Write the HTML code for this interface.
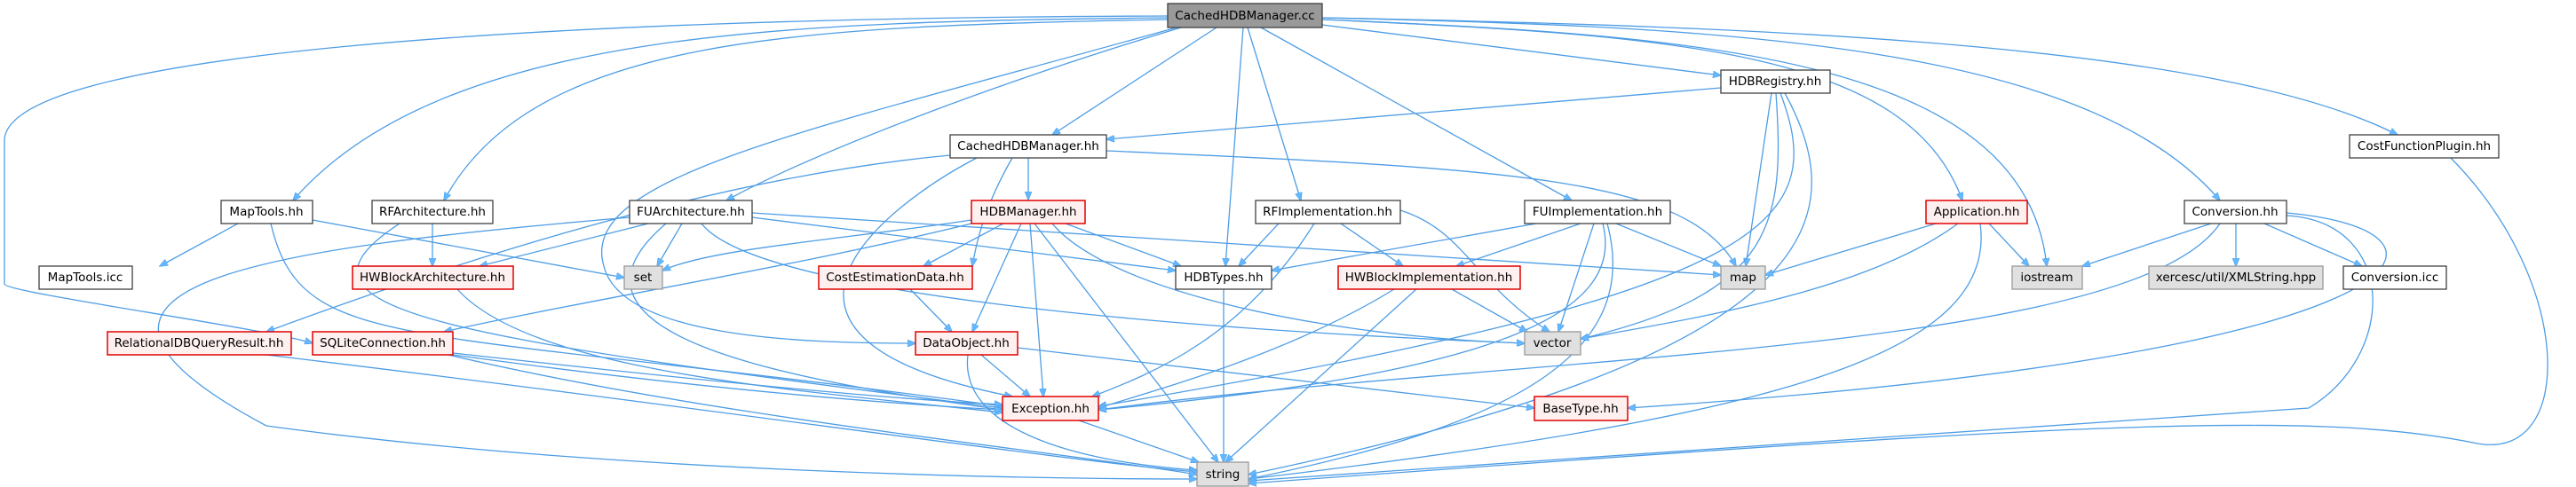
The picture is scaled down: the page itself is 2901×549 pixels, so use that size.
<!DOCTYPE html>
<html><head><meta charset="utf-8"><style>
html,body{margin:0;padding:0;background:#fff;}
svg{display:block}
text{font-family:"DejaVu Sans","Liberation Sans",sans-serif;font-size:13.5px;fill:#000;text-anchor:middle;dominant-baseline:central}
.e{fill:none;stroke:#4e9de5;stroke-width:1.3}
.n{fill:#fff;stroke:#404040;stroke-width:1.3}
.g{fill:#e0e0e0;stroke:#999;stroke-width:1.3}
.r{fill:#fff0f0;stroke:#e00000;stroke-width:1.5}
</style></head><body>
<svg width="2901" height="549" viewBox="0 0 2901 549" xmlns="http://www.w3.org/2000/svg">
<defs><marker id="a" markerWidth="10" markerHeight="8" refX="9" refY="4" orient="auto" markerUnits="userSpaceOnUse"><path d="M0,0 L10,4 L0,8 z" fill="#63b8ff" stroke="#4e9de5" stroke-width="0.6"/></marker></defs>
<g marker-end="url(#a)">
<!-- from CachedHDBManager.cc -->
<path class="e" d="M1370,31 L1185,152"/>
<path class="e" d="M1315,20 C900,25 500,30 330,226"/>
<path class="e" d="M1315,22 C900,30 600,40 500,226"/>
<path class="e" d="M1330,31 C1100,100 900,180 818,226"/>
<path class="e" d="M1400,31 L1380,300"/>
<path class="e" d="M1405,31 L1465,226"/>
<path class="e" d="M1420,31 L1770,226"/>
<path class="e" d="M1489,28 L1938,85"/>
<path class="e" d="M1489,22 C1900,40 2150,60 2210,226"/>
<path class="e" d="M1489,22 C1900,40 2280,60 2305,300"/>
<path class="e" d="M1489,20 C1950,30 2350,50 2500,226"/>
<path class="e" d="M1489,20 C2000,30 2500,50 2700,152"/>
<path class="e" d="M1315,18 C600,20 0,60 5,160 L5,320 C5,330 300,370 352,387"/>
<path class="e" d="M1325,31 C900,150 650,200 680,300 C700,380 900,387 1031,387"/>
<!-- HDBRegistry -->
<path class="e" d="M1938,99 L1246,157"/>
<path class="e" d="M1995,105 L1966,300"/>
<path class="e" d="M2000,105 C2010,250 2000,330 1780,382"/>
<path class="e" d="M2005,105 C2060,250 2000,330 1237,458"/>
<path class="e" d="M2010,105 C2090,250 2050,400 1406,535"/>
<!-- CachedHDBManager.hh -->
<path class="e" d="M1158,178 L1158,225"/>
<path class="e" d="M1140,178 C1110,230 1100,270 1095,300"/>
<path class="e" d="M1100,178 C1000,230 800,380 1140,447"/>
<path class="e" d="M1070,175 C800,200 500,300 300,374"/>
<path class="e" d="M1246,170 C1700,190 1900,200 1955,300"/>
<!-- MapTools.hh -->
<path class="e" d="M268,252 L180,300"/>
<path class="e" d="M352,248 L703,313"/>
<path class="e" d="M305,252 C340,400 450,365 1129,458"/>
<!-- RFArchitecture -->
<path class="e" d="M487,252 L487,300"/>
<path class="e" d="M450,252 C300,350 500,380 1129,460"/>
<!-- FUArchitecture -->
<path class="e" d="M730,252 L540,300"/>
<path class="e" d="M768,252 L740,300"/>
<path class="e" d="M847,245 L1324,305"/>
<path class="e" d="M847,240 L1938,310"/>
<path class="e" d="M790,252 C850,330 1300,370 1717,387"/>
<path class="e" d="M750,252 C600,380 900,430 1129,462"/>
<path class="e" d="M709,245 C300,280 0,320 300,480 C700,535 1200,540 1348,540"/>
<!-- HDBManager -->
<path class="e" d="M1094,248 C950,270 800,280 746,305"/>
<path class="e" d="M1130,252 L1040,300"/>
<path class="e" d="M1200,252 L1330,300"/>
<path class="e" d="M1150,252 L1095,374"/>
<path class="e" d="M1160,252 L1175,447"/>
<path class="e" d="M1165,252 L1372,521"/>
<path class="e" d="M1185,252 C1250,330 1500,380 1717,387"/>
<path class="e" d="M1094,252 C900,300 650,340 500,374"/>
<!-- RFImplementation -->
<path class="e" d="M1440,252 L1395,300"/>
<path class="e" d="M1510,252 L1580,300"/>
<path class="e" d="M1577,237 C1650,260 1660,320 1745,374"/>
<path class="e" d="M1480,252 C1400,380 1300,420 1230,447"/>
<!-- FUImplementation -->
<path class="e" d="M1730,252 L1432,305"/>
<path class="e" d="M1780,252 L1640,300"/>
<path class="e" d="M1820,252 L1938,300"/>
<path class="e" d="M1795,252 L1755,374"/>
<path class="e" d="M1805,252 C1830,350 1700,420 1237,462"/>
<path class="e" d="M1810,252 C1850,400 1700,480 1406,540"/>
<!-- HWBlockImplementation -->
<path class="e" d="M1635,326 L1720,374"/>
<path class="e" d="M1570,326 C1450,400 1300,440 1237,460"/>
<path class="e" d="M1595,326 L1380,521"/>
<!-- HWBlockArchitecture -->
<path class="e" d="M515,326 C600,420 900,440 1129,465"/>
<!-- CostEstimationData -->
<path class="e" d="M1025,326 L1072,374"/>
<!-- DataObject -->
<path class="e" d="M1105,400 L1160,447"/>
<path class="e" d="M1090,400 C1080,480 1200,520 1348,530"/>
<path class="e" d="M1146,392 L1728,460"/>
<!-- HDBTypes -->
<path class="e" d="M1378,326 L1378,521"/>
<!-- RelationalDBQueryResult -->
<path class="e" d="M300,400 C800,460 1200,520 1348,532"/>
<!-- SQLiteConnection -->
<path class="e" d="M510,398 C800,430 1000,450 1129,456"/>
<path class="e" d="M510,400 C800,440 1000,455 1129,462"/>
<path class="e" d="M505,400 C800,470 1200,510 1348,535"/>
<!-- Exception -->
<path class="e" d="M1215,474 L1350,521"/>
<!-- Application -->
<path class="e" d="M2180,252 L1988,310"/>
<path class="e" d="M2240,252 L2285,300"/>
<path class="e" d="M2205,252 C2100,330 1900,360 1780,382"/>
<path class="e" d="M2230,252 C2250,400 2000,470 1406,540"/>
<!-- Conversion -->
<path class="e" d="M2490,252 L2345,300"/>
<path class="e" d="M2518,252 L2518,300"/>
<path class="e" d="M2550,252 L2660,300"/>
<path class="e" d="M2500,252 C2400,400 1700,400 1237,462"/>
<path class="e" d="M2575,240 C2800,260 2750,400 1833,460"/>
<path class="e" d="M2575,243 C2700,250 2700,400 2600,460 C2400,470 2200,490 1406,542"/>
<!-- CostFunctionPlugin -->
<path class="e" d="M2760,178 C2900,320 2900,520 2790,500 C2600,460 2300,480 1406,545"/>
</g>
<!-- nodes -->
<rect class="n" x="1315" y="4" width="174" height="27" style="fill:#999"/><text x="1402" y="18">CachedHDBManager.cc</text>
<rect class="n" x="1938" y="79" width="123" height="26"/><text x="1999" y="92">HDBRegistry.hh</text>
<rect class="n" x="1070" y="152" width="176" height="26"/><text x="1158" y="165">CachedHDBManager.hh</text>
<rect class="n" x="2646" y="152" width="168" height="26"/><text x="2730" y="165">CostFunctionPlugin.hh</text>
<rect class="n" x="249" y="226" width="103" height="26"/><text x="300" y="239">MapTools.hh</text>
<rect class="n" x="419" y="226" width="136" height="26"/><text x="487" y="239">RFArchitecture.hh</text>
<rect class="n" x="709" y="226" width="138" height="26"/><text x="778" y="239">FUArchitecture.hh</text>
<rect class="r" x="1094" y="226" width="128" height="26"/><text x="1158" y="239">HDBManager.hh</text>
<rect class="n" x="1414" y="226" width="163" height="26"/><text x="1495" y="239">RFImplementation.hh</text>
<rect class="n" x="1717" y="226" width="164" height="26"/><text x="1799" y="239">FUImplementation.hh</text>
<rect class="r" x="2169" y="226" width="114" height="26"/><text x="2226" y="239">Application.hh</text>
<rect class="n" x="2460" y="226" width="115" height="26"/><text x="2517" y="239">Conversion.hh</text>
<rect class="n" x="44" y="300" width="105" height="26"/><text x="96" y="313">MapTools.icc</text>
<rect class="r" x="397" y="300" width="181" height="26"/><text x="487" y="313">HWBlockArchitecture.hh</text>
<rect class="g" x="703" y="300" width="43" height="26"/><text x="724" y="313">set</text>
<rect class="r" x="922" y="300" width="173" height="26"/><text x="1008" y="313">CostEstimationData.hh</text>
<rect class="n" x="1324" y="300" width="108" height="26"/><text x="1378" y="313">HDBTypes.hh</text>
<rect class="r" x="1507" y="300" width="205" height="26"/><text x="1609" y="313">HWBlockImplementation.hh</text>
<rect class="g" x="1938" y="300" width="50" height="26"/><text x="1963" y="313">map</text>
<rect class="g" x="2266" y="300" width="79" height="26"/><text x="2305" y="313">iostream</text>
<rect class="g" x="2420" y="300" width="196" height="26"/><text x="2518" y="313">xercesc/util/XMLString.hpp</text>
<rect class="n" x="2639" y="300" width="116" height="26"/><text x="2697" y="313">Conversion.icc</text>
<rect class="r" x="121" y="374" width="207" height="26"/><text x="224" y="387">RelationalDBQueryResult.hh</text>
<rect class="r" x="352" y="374" width="158" height="26"/><text x="431" y="387">SQLiteConnection.hh</text>
<rect class="r" x="1031" y="374" width="115" height="26"/><text x="1088" y="387">DataObject.hh</text>
<rect class="g" x="1717" y="374" width="63" height="26"/><text x="1748" y="387">vector</text>
<rect class="r" x="1129" y="447" width="108" height="27"/><text x="1183" y="461">Exception.hh</text>
<rect class="r" x="1728" y="447" width="105" height="27"/><text x="1780" y="461">BaseType.hh</text>
<rect class="g" x="1348" y="521" width="58" height="27"/><text x="1377" y="535">string</text>
</svg>
</body></html>
